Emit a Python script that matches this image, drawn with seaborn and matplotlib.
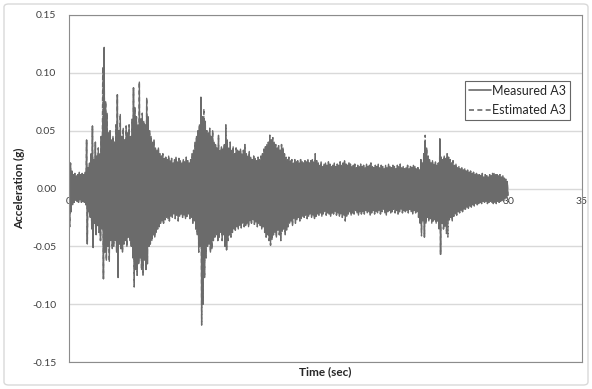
import numpy as np
import pandas as pd
import seaborn as sns
import matplotlib.pyplot as plt
from matplotlib.patches import FancyBboxPatch

# upper / lower peaks of the record, read every 0.1 s (milli-g)
measured_upper_mg = [
    28, 22, 15, 12, 13, 11, 12, 14, 12, 13,
    12, 14, 42, 18, 22, 30, 54, 25, 40, 28,
    35, 30, 45, 60, 122, 75, 65, 48, 50, 42,
    45, 40, 55, 81, 50, 64, 45, 52, 42, 54,
    48, 55, 45, 60, 87, 70, 62, 55, 92, 60,
    65, 58, 55, 78, 62, 50, 45, 40, 42, 35,
    33, 35, 30, 28, 30, 26, 27, 25, 28, 24,
    26, 22, 25, 27, 23, 26, 24, 22, 25, 23,
    27, 24, 22, 25, 30, 33, 40, 45, 50, 55,
    79, 62, 60, 58, 50, 48, 52, 45, 50, 40,
    38, 35, 46, 33, 36, 34, 38, 55, 42, 35,
    40, 33, 36, 30, 35, 33, 32, 34, 30, 33,
    38, 30, 28, 32, 27, 25, 28, 26, 24, 27,
    25, 28, 30, 34, 36, 38, 40, 46, 42, 44,
    40, 38, 35, 37, 33, 38, 35, 30, 27, 25,
    27, 24, 25, 22, 25, 23, 24, 22, 25, 23,
    22, 24, 23, 25, 22, 24, 25, 23, 30, 24,
    22, 20, 23, 19, 21, 22, 20, 23, 21, 19,
    20, 22, 19, 21, 20, 23, 20, 22, 24, 21,
    20, 22, 21, 19, 20, 21, 18, 20, 19, 21,
    19, 20, 18, 21, 19, 20, 22, 19, 18, 20,
    19, 21, 18, 20, 19, 17, 20, 18, 21, 19,
    18, 20, 19, 17, 20, 19, 21, 18, 19, 17,
    18, 20, 17, 19, 18, 20, 19, 17, 18, 16,
    25, 22, 30, 39, 35, 28, 25, 22, 24, 21,
    23, 20, 22, 43, 27, 25, 28, 26, 30, 27,
    25, 22, 24, 20, 21, 18, 19, 17, 18, 16,
    17, 15, 16, 14, 15, 13, 14, 12, 13, 12,
    12, 11, 13, 10, 12, 11, 10, 12, 11, 13,
    13, 12, 12, 11, 12, 10, 11, 9, 8, 6,
]
measured_lower_mg = [
    -33, -20, -14, -12, -10, -11, -12, -10, -12, -11,
    -12, -14, -48, -20, -25, -35, -51, -30, -40, -32,
    -38, -45, -35, -78, -55, -62, -50, -63, -45, -52,
    -50, -45, -55, -77, -48, -52, -55, -48, -45, -50,
    -42, -45, -50, -60, -85, -70, -75, -65, -60, -70,
    -75, -62, -70, -65, -50, -48, -45, -40, -42, -38,
    -35, -33, -30, -28, -30, -27, -25, -26, -28, -24,
    -25, -22, -26, -23, -28, -24, -22, -25, -23, -26,
    -24, -22, -26, -25, -30, -28, -35, -40, -55, -50,
    -118, -100, -77, -60, -50, -48, -55, -52, -45, -42,
    -40, -45, -42, -38, -45, -40, -50, -53, -45, -40,
    -42, -38, -35, -36, -33, -35, -32, -34, -30, -33,
    -32, -30, -33, -28, -30, -27, -31, -29, -33, -30,
    -32, -35, -33, -38, -42, -40, -45, -49, -44, -40,
    -38, -42, -36, -40, -45, -37, -35, -40, -36, -33,
    -30, -28, -32, -26, -30, -27, -25, -28, -26, -24,
    -25, -23, -26, -24, -22, -25, -23, -26, -24, -22,
    -23, -21, -24, -22, -20, -23, -21, -22, -24, -21,
    -22, -20, -23, -21, -24, -22, -25, -23, -28, -24,
    -22, -20, -23, -21, -22, -19, -21, -23, -20, -22,
    -20, -22, -19, -21, -20, -23, -21, -19, -22, -20,
    -21, -19, -22, -20, -18, -21, -23, -20, -19, -21,
    -20, -18, -21, -19, -22, -20, -18, -21, -19, -20,
    -19, -21, -18, -20, -22, -19, -21, -20, -25, -30,
    -38, -28, -42, -30, -25, -28, -26, -30, -28, -27,
    -30, -28, -35, -57, -30, -35, -33, -30, -28, -27,
    -25, -28, -24, -22, -23, -20, -21, -19, -20, -18,
    -18, -16, -17, -15, -16, -14, -15, -13, -14, -13,
    -12, -13, -11, -12, -11, -13, -12, -11, -12, -13,
    -12, -13, -11, -12, -11, -10, -11, -9, -8, -6,
]

# where the estimated trace departs from the measured one
est_upper_t = [2.3, 9.2, 24.3]
est_upper_mg = [105, 69, 46]
est_lower_t = [24.0, 25.7, 25.8]
est_lower_mg = [-41, -39, -42]

x_ticks = [0, 5, 10, 15, 20, 25, 30, 35]
y_ticks = [-0.15, -0.10, -0.05, 0.00, 0.05, 0.10, 0.15]

step = 0.1
grey = "#6b6b6b"


def zigzag(upper, lower):
    n = len(upper)
    t = np.arange(n) * step
    x = np.empty(2 * n)
    y = np.empty(2 * n)
    x[0::2] = t
    x[1::2] = t + step / 2
    y[0::2] = np.array(upper) / 1000
    y[1::2] = np.array(lower) / 1000
    return x, y


est_up = list(measured_upper_mg)
for t, v in zip(est_upper_t, est_upper_mg):
    est_up[int(round(t / step))] = v
est_lo = list(measured_lower_mg)
for t, v in zip(est_lower_t, est_lower_mg):
    est_lo[int(round(t / step))] = v

mx, my = zigzag(measured_upper_mg, measured_lower_mg)
ex, ey = zigzag(est_up, est_lo)
df = pd.concat([
    pd.DataFrame({"t": mx, "acc": my, "series": "Measured A3"}),
    pd.DataFrame({"t": ex, "acc": ey, "series": "Estimated A3"}),
])

sns.set_theme(style="white")
plt.rcParams["font.family"] = ["Lato", "DejaVu Sans"]

fig = plt.figure(figsize=(5.92, 3.89), dpi=100)
ax = fig.add_axes([69 / 592, 1 - 362 / 389, 513 / 592, 347 / 389])

sns.lineplot(
    data=df, x="t", y="acc", style="series", color=grey,
    dashes={"Measured A3": "", "Estimated A3": (3, 2)},
    sort=False, estimator=None, linewidth=1.0, ax=ax,
)

ax.set_xlim(0, 35)
ax.set_ylim(-0.15, 0.15)
ax.set_yticks(y_ticks)
ax.set_yticklabels([f"{v:.2f}" for v in y_ticks])
ax.yaxis.grid(True, color="#d9d9d9", linewidth=1.0)
ax.set_axisbelow(True)
for s in ax.spines.values():
    s.set_color("#8c8c8c")
    s.set_linewidth(0.8)
ax.tick_params(axis="y", length=0, pad=9, labelsize=7.5, labelcolor="#404040")
ax.set_xticks([])

# Excel-style category axis crossing at zero
sec = ax.secondary_xaxis(0.5)
sec.set_xticks(x_ticks)
sec.xaxis.set_ticks_position("bottom")
for s in sec.spines.values():
    s.set_visible(False)
sec.tick_params(length=0, pad=6, labelsize=7.5, labelcolor="#404040")

ax.set_xlabel("Time (sec)", fontsize=8.5, fontweight="bold", labelpad=3)
ax.set_ylabel("Acceleration (g)", fontsize=8.5, fontweight="bold", labelpad=5)

leg = ax.legend(
    loc="upper right", bbox_to_anchor=(0.977, 0.81), borderaxespad=0,
    fontsize=9, frameon=True, fancybox=False, handlelength=1.75,
    handletextpad=0.15, borderpad=0.3, labelspacing=0.6,
)
leg.get_frame().set_edgecolor("#404040")
leg.get_frame().set_linewidth(0.8)
for h in leg.get_lines():
    h.set_linewidth(1.2)

fig.patches.append(FancyBboxPatch(
    (4 / 592, 4 / 389), 584 / 592, 381 / 389, boxstyle="round,pad=0,rounding_size=0.008",
    transform=fig.transFigure, facecolor="none", edgecolor="#d9d9d9", linewidth=1.0,
))

fig.savefig("out.png", dpi=100)
